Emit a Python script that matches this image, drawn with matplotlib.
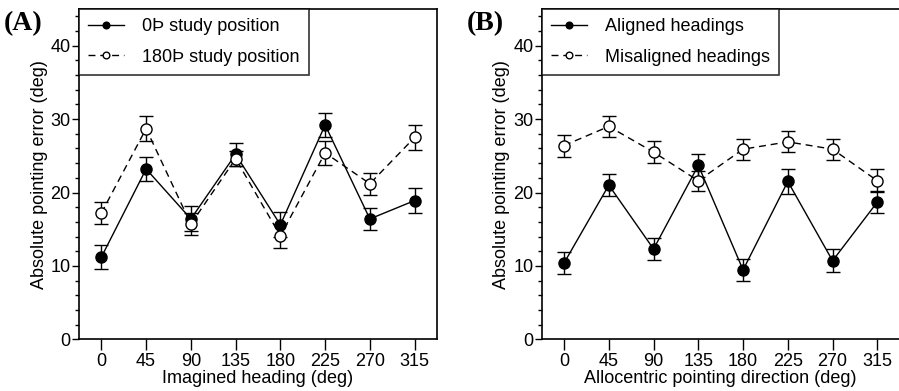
import matplotlib
matplotlib.use("Agg")
import matplotlib.pyplot as plt
from matplotlib.ticker import MultipleLocator

plt.rcParams['font.family'] = ['Liberation Sans', 'DejaVu Sans']

headings = [0, 45, 90, 135, 180, 225, 270, 315]

# Panel A: imagined heading, by study position
study0_mean = [11.2, 23.2, 16.4, 25.2, 15.6, 29.2, 16.4, 18.9]
study0_err = [1.65, 1.65, 1.7, 1.6, 1.7, 1.6, 1.55, 1.7]
study180_mean = [17.2, 28.7, 15.7, 24.6, 14.1, 25.4, 21.2, 27.5]
study180_err = [1.55, 1.7, 1.5, 1.0, 1.6, 1.65, 1.5, 1.7]

# Panel B: allocentric pointing direction, aligned vs misaligned headings
aligned_mean = [10.4, 21.0, 12.3, 23.7, 9.45, 21.5, 10.7, 18.7]
aligned_err = [1.5, 1.5, 1.45, 1.6, 1.45, 1.65, 1.55, 1.5]
misaligned_mean = [26.4, 29.0, 25.5, 21.6, 25.9, 26.9, 25.9, 21.6]
misaligned_err = [1.5, 1.45, 1.45, 1.35, 1.45, 1.45, 1.45, 1.55]

labels_a = ['0Þ study position', '180Þ study position']
labels_b = ['Aligned headings', 'Misaligned headings']
xlabels = ['Imagined heading (deg)', 'Allocentric pointing direction (deg)']
ylabel = 'Absolute pointing error (deg)'

fig = plt.figure(figsize=(8.99, 3.91), dpi=100)
ax_a = fig.add_axes([79 / 899, 1 - 339.3 / 391, 358 / 899, 330.3 / 391])
ax_b = fig.add_axes([541.7 / 899, 1 - 339.3 / 391, 358 / 899, 330.3 / 391])

LW = 1.0
FS = 13


def draw_series(ax, mean, err, filled, label):
    ls = '-' if filled else (0, (5, 3.5))
    fc = 'black' if filled else 'white'
    ax.errorbar(headings, mean, yerr=err, fmt='none', ecolor='black',
                elinewidth=LW, capsize=5, capthick=LW, zorder=2)
    ax.plot(headings, mean, color='black', linestyle=ls, linewidth=LW,
            marker='o', markersize=8, markerfacecolor=fc,
            markeredgecolor='black', markeredgewidth=LW, label=label, zorder=3)


def style_axes(ax, xlabel):
    ax.set_xlim(-22.5, 337.5)
    ax.set_ylim(0, 45)
    ax.set_xticks(headings)
    ax.set_xticklabels([str(h) for h in headings])
    ax.yaxis.set_minor_locator(MultipleLocator(2))
    ax.set_yticks([0, 10, 20, 30, 40])
    ax.tick_params(axis='y', which='major', length=5, width=1.0, labelsize=FS, pad=1)
    ax.tick_params(axis='y', which='minor', length=3, width=1.0)
    ax.tick_params(axis='x', which='major', length=8, width=1.0, labelsize=FS, pad=2)
    for s in ax.spines.values():
        s.set_linewidth(1.2)
    ax.set_xlabel(xlabel, fontsize=FS, labelpad=0)
    ax.set_ylabel(ylabel, fontsize=FS, labelpad=2)
    leg = ax.legend(loc='upper left', bbox_to_anchor=(0, 1), borderaxespad=0,
                    frameon=True, fancybox=False, fontsize=FS, handlelength=2.0,
                    handletextpad=1.0, borderpad=0.5, labelspacing=0.75,
                    markerscale=0.6, edgecolor='black')
    leg.get_frame().set_linewidth(1.2)


draw_series(ax_a, study0_mean, study0_err, True, labels_a[0])
draw_series(ax_a, study180_mean, study180_err, False, labels_a[1])
style_axes(ax_a, xlabels[0])

draw_series(ax_b, aligned_mean, aligned_err, True, labels_b[0])
draw_series(ax_b, misaligned_mean, misaligned_err, False, labels_b[1])
style_axes(ax_b, xlabels[1])

fig.text(4 / 899, 1 - 30 / 391, '(A)', family='Liberation Serif',
         fontweight='bold', fontsize=20)
fig.text(467 / 899, 1 - 30 / 391, '(B)', family='Liberation Serif',
         fontweight='bold', fontsize=20)

fig.savefig('out.png', dpi=100)
